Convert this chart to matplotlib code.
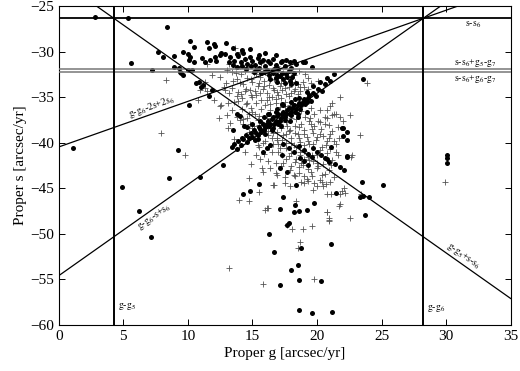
import matplotlib
matplotlib.use("Agg")
import matplotlib.pyplot as plt

plt.rcParams['font.family'] = ['Liberation Serif', 'DejaVu Serif']
plt.rcParams['mathtext.fontset'] = 'stix'

# secular frequencies [arcsec/yr]
g5 = 4.26
g6 = 28.24
s6 = -26.35
s_res_a = -31.95
s_res_b = -32.2

# filled circles (proper g, proper s)
circ = [
    (2.84, -26.24), (5.37, -26.35), (1.13, -40.6), (5.58, -31.3), (7.2, -32.0), (8.37, -27.35),
    (7.7, -30.1), (8.1, -30.6), (8.9, -30.5), (9.6, -30.0), (10.2, -28.8), (10.5, -29.5),
    (10.0, -30.3), (10.2, -30.6), (10.1, -30.9), (10.5, -31.1), (8.9, -31.7), (9.3, -31.8),
    (9.4, -32.2), (9.6, -32.6), (9.5, -32.4), (10.0, -32.0), (10.3, -32.0), (10.6, -33.4),
    (11.2, -33.7), (10.9, -33.3), (11.0, -33.9), (11.85, -34.2), (11.6, -34.9), (10.1, -35.9),
    (11.5, -29.0), (11.6, -29.65), (12.0, -29.2), (12.1, -29.4), (12.95, -29.1), (13.5, -29.6),
    (14.2, -29.8), (14.8, -29.7), (16.0, -30.2), (12.6, -30.2), (11.1, -30.7), (11.3, -31.1),
    (11.7, -30.9), (12.1, -30.6), (12.5, -30.4), (12.9, -30.3), (12.2, -31.0),
    (13.3, -30.6), (13.6, -31.0), (13.9, -30.5), (14.1, -31.2), (14.4, -30.8), (14.6, -31.4),
    (14.8, -30.6), (15.0, -31.0), (15.2, -31.5), (15.4, -30.7), (15.6, -31.2), (15.8, -30.9),
    (16.0, -31.6), (16.2, -31.0), (16.4, -31.3), (16.6, -30.8), (16.8, -31.5), (17.0, -31.9),
    (17.2, -31.2), (17.5, -31.6), (17.8, -32.1), (16.5, -32.1), (16.9, -32.6), (17.3, -32.4),
    (15.9, -32.2), (15.3, -32.0), (18.4, -31.4), (18.95, -31.2), (19.6, -31.7), (19.1, -31.1),
    (18.0, -31.8), (17.7, -32.8), (18.2, -32.4), (23.6, -33.0),
    (13.2, -31.2), (13.5, -31.5), (13.8, -31.7), (14.2, -31.6), (14.5, -31.9), (14.9, -31.6),
    (15.1, -32.2), (15.5, -31.8), (15.7, -32.4), (16.1, -32.0), (16.3, -32.6), (16.6, -32.4),
    (16.8, -32.9), (17.1, -32.7), (17.4, -33.0), (17.6, -32.5), (17.9, -33.2), (18.1, -32.8),
    (18.4, -33.4), (18.0, -33.6), (17.5, -33.5), (16.9, -33.3), (16.4, -33.0), (17.6, -30.9),
    (17.9, -31.2), (18.2, -31.0), (16.7, -31.9), (17.3, -31.0), (15.5, -30.4), (14.3, -30.2),
    (13.8, -30.3), (16.8, -30.4),
    (9.2, -40.8), (8.5, -43.9), (10.95, -43.8), (6.25, -47.5),
    (12.7, -42.45), (13.4, -40.5), (13.8, -40.7), (13.5, -38.6), (14.2, -39.45), (14.55, -39.9),
    (15.0, -39.35), (15.2, -39.7), (15.45, -39.15), (15.85, -41.0), (16.1, -40.6), (16.4, -40.3),
    (14.05, -37.1), (14.35, -38.2), (13.8, -36.9),
    (15.6, -38.5), (15.8, -38.0), (16.0, -38.3), (16.2, -37.6), (16.4, -37.9), (16.6, -37.2),
    (16.8, -37.6), (17.0, -36.9), (17.2, -37.3), (17.4, -36.6), (17.6, -36.9), (17.8, -36.2),
    (18.0, -36.6), (18.2, -35.9), (18.4, -36.3), (18.6, -35.6), (18.8, -35.9), (19.0, -35.2),
    (19.2, -35.5), (19.4, -34.8), (19.7, -33.8), (20.2, -33.3), (20.75, -32.9), (21.3, -32.5),
    (16.5, -38.6), (17.0, -38.0), (17.5, -37.5), (18.0, -37.0), (18.5, -36.8), (17.3, -35.8),
    (16.9, -36.3), (18.3, -35.2), (15.9, -37.2), (16.3, -36.8),
    (13.6, -40.2), (13.9, -39.8), (14.1, -40.3), (14.3, -39.6), (14.5, -39.2), (14.7, -39.5),
    (14.9, -38.9), (15.1, -38.6), (15.3, -38.9), (15.5, -38.3), (15.7, -38.8), (15.9, -38.6),
    (16.1, -37.9), (16.3, -38.2), (16.5, -37.4), (16.7, -37.9), (16.9, -37.1), (17.1, -37.6),
    (17.3, -36.9), (17.5, -37.2), (17.7, -36.4), (17.9, -36.9), (18.1, -36.2), (18.3, -36.6),
    (18.5, -35.9), (18.7, -36.3), (18.9, -35.5), (19.1, -35.8), (19.3, -35.1), (19.5, -35.4),
    (19.7, -34.6), (19.9, -34.9), (20.1, -34.1), (20.4, -34.3), (20.6, -33.6), (21.0, -33.2),
    (15.0, -37.9), (15.6, -37.6), (16.2, -36.9), (16.8, -36.6), (17.4, -35.9), (18.0, -35.5),
    (18.6, -35.1), (19.2, -34.4), (14.6, -38.3), (15.4, -39.6), (16.0, -39.0), (16.6, -38.4),
    (17.2, -38.2), (17.9, -37.6), (18.5, -37.2), (19.2, -36.6),
    (17.4, -40.1), (17.8, -40.6), (18.2, -41.0), (19.7, -40.6), (20.0, -41.0), (20.3, -41.3),
    (20.6, -41.7), (21.1, -40.45), (21.9, -38.4), (17.3, -41.35), (17.1, -42.8), (17.65, -43.2),
    (20.75, -41.8), (22.35, -41.5), (22.05, -38.4), (22.3, -38.8), (22.0, -39.3), (22.3, -39.7),
    (22.3, -41.6), (19.0, -42.0), (19.3, -42.4), (18.7, -41.7),
    (18.6, -40.4), (19.0, -40.8), (19.3, -41.2), (19.6, -41.6), (20.9, -42.1), (21.4, -42.3),
    (21.8, -42.7), (22.1, -43.0),
    (18.4, -44.65), (23.5, -44.3), (25.1, -44.6), (17.35, -46.0), (23.3, -46.0), (23.6, -45.9),
    (24.0, -46.0), (17.1, -47.3), (18.2, -47.6), (18.6, -47.5), (19.25, -47.4), (19.8, -46.6),
    (21.5, -45.5), (23.7, -47.9), (17.7, -49.0), (16.3, -50.0), (21.1, -51.1), (16.7, -52.0),
    (18.8, -51.5), (18.5, -53.4), (18.0, -54.0), (17.1, -55.6), (18.6, -55.1), (20.3, -55.2),
    (18.6, -58.4), (19.6, -58.7), (21.2, -58.6), (4.93, -44.9), (7.15, -50.4), (14.3, -45.6),
    (14.8, -45.3), (15.5, -44.5), (18.3, -46.85), (17.8, -48.8), (30.05, -41.4), (30.05, -41.7),
    (30.05, -42.2),
]

# plus markers (proper g, proper s)
plus = [
    (8.3, -33.1), (7.9, -38.9), (9.8, -41.35), (10.8, -35.3), (11.3, -34.0), (11.5, -34.3),
    (12.0, -35.3), (12.5, -36.0), (13.0, -37.0), (13.65, -29.6), (14.0, -30.1), (11.5, -31.4),
    (11.85, -32.6), (11.3, -33.3), (12.95, -33.4), (12.6, -35.9), (10.95, -34.2), (13.3, -37.8),
    (14.0, -37.5), (15.3, -41.4), (15.6, -41.8), (15.75, -42.8), (15.8, -43.2), (14.7, -43.85),
    (15.5, -45.4), (14.7, -46.4), (16.0, -47.4), (16.2, -47.2), (16.7, -44.6), (13.97, -46.3),
    (13.2, -53.7), (16.1, -47.2), (18.4, -46.4), (19.0, -44.4), (19.3, -44.2),
    (19.8, -44.4), (20.4, -44.3), (20.7, -44.5), (20.0, -44.8), (20.75, -45.6), (21.1, -45.6),
    (21.9, -45.3), (22.2, -45.5), (21.7, -47.0), (20.75, -47.6), (20.9, -48.3), (20.9, -48.6),
    (17.65, -49.0), (18.1, -49.5), (18.9, -49.5), (19.6, -49.15), (18.7, -50.9), (18.5, -51.6),
    (19.8, -55.0), (15.8, -55.5), (29.9, -44.3), (23.4, -45.6), (23.85, -33.4), (21.8, -35.0),
    (21.0, -36.0), (20.8, -36.4), (21.2, -35.7), (22.55, -37.0), (21.5, -36.8), (23.3, -39.2),
    (22.7, -41.4), (22.6, -41.6), (21.1, -42.45), (22.1, -45.0), (22.55, -48.3),
    (13.4, -32.3), (13.8, -33.0), (14.1, -32.5), (14.3, -33.6), (14.6, -32.9), (14.8, -34.2),
    (15.0, -33.3), (15.1, -32.4), (15.3, -34.8), (15.4, -33.8), (15.6, -32.8), (15.7, -35.3),
    (15.8, -34.1), (15.9, -33.2), (16.0, -35.9), (16.1, -34.6), (16.2, -32.6), (16.3, -33.7),
    (16.4, -36.4), (16.5, -35.0), (16.6, -34.0), (16.7, -33.0), (16.8, -35.6), (16.9, -34.4),
    (17.0, -32.9), (17.1, -33.8), (17.2, -35.1), (17.3, -34.2), (17.5, -33.4), (17.6, -34.7),
    (17.8, -33.9), (18.0, -34.5), (18.1, -33.3), (18.3, -34.1), (18.5, -33.6), (18.7, -34.3),
    (19.0, -33.9), (13.9, -34.4), (14.2, -35.1), (14.5, -35.8), (14.9, -36.2), (15.2, -36.8),
    (15.5, -37.1), (15.0, -35.0), (14.4, -34.3), (13.6, -35.5), (13.2, -34.6), (12.8, -33.9),
    (12.5, -32.8), (13.0, -32.0), (14.0, -31.6), (16.8, -32.2), (18.2, -32.6), (19.3, -32.9),
    (18.3, -33.3), (18.7, -33.85), (19.5, -33.4),
    (16.6, -38.9), (16.9, -39.7), (17.2, -38.4), (17.4, -39.2), (17.6, -40.0), (17.8, -38.7),
    (18.0, -39.5), (18.2, -40.3), (18.3, -38.2), (18.5, -39.1), (18.7, -39.9), (18.8, -37.9),
    (19.0, -38.6), (19.2, -39.4), (19.4, -40.2), (19.5, -38.0), (19.7, -38.9), (19.9, -39.7),
    (20.1, -37.6), (20.3, -38.5), (20.5, -39.3), (20.7, -40.3), (20.2, -40.8), (19.6, -41.3),
    (19.0, -40.9), (18.4, -41.8), (17.8, -41.5), (17.0, -41.0), (16.6, -40.1), (16.2, -39.2),
    (15.8, -40.0), (15.5, -40.5), (17.4, -42.2), (18.0, -42.6), (18.8, -42.2), (19.4, -41.9),
    (20.0, -42.2), (16.8, -43.3), (17.5, -43.8), (18.6, -43.3), (21.0, -39.0), (21.3, -39.8),
    (21.6, -38.3), (20.8, -37.3), (21.2, -37.0), (22.0, -37.6), (21.5, -41.0), (20.4, -43.6),
    (19.2, -44.0), (18.0, -37.3), (19.1, -37.2), (19.8, -36.9), (17.5, -36.0), (20.25, -36.4),
    (20.6, -37.15), (21.8, -37.15), (21.3, -36.8), (19.47, -37.3), (20.25, -37.7), (20.9, -38.1),
    (20.9, -39.5), (21.5, -40.1), (17.9, -38.6), (16.9, -39.5), (17.15, -40.6), (18.7, -41.4),
    (18.95, -42.5), (19.5, -43.2), (20.0, -42.8), (19.0, -43.7), (18.3, -43.7), (21.0, -44.3),
    (20.5, -44.8), (21.8, -45.6), (19.7, -45.2), (17.9, -44.8), (16.6, -44.6), (21.8, -46.7),
    (20.8, -47.6), (20.9, -48.5), (12.4, -37.3), (13.1, -38.4), (13.6, -39.6), (14.4, -41.0),
    (14.9, -42.3), (14.3, -37.4), (14.6, -37.3), (14.8, -38.0), (15.1, -38.2),
    (13.2, -31.4), (14.5, -31.7), (15.7, -31.3), (16.9, -31.6), (18.6, -32.1),
    (13.7, -32.4), (14.4, -32.1), (15.3, -32.5), (16.0, -32.2), (17.4, -32.4), (18.0, -32.1),
    (19.1, -32.5), (13.5, -33.2), (14.0, -33.4), (14.9, -33.0), (15.5, -33.5), (16.4, -33.1),
    (17.2, -33.4), (17.9, -33.0), (18.9, -33.3), (20.1, -33.2), (12.9, -34.2), (13.4, -34.0),
    (14.5, -34.1), (15.2, -34.3), (15.9, -33.8), (16.7, -34.2), (17.5, -34.0), (18.2, -34.3),
    (19.3, -34.1), (13.8, -34.9), (14.1, -34.7), (14.9, -34.8), (15.6, -34.6), (16.3, -35.0),
    (17.0, -34.8), (17.8, -34.9), (18.5, -34.7), (13.1, -35.7), (13.9, -35.4), (14.6, -35.6),
    (15.3, -35.7), (16.1, -35.3), (16.8, -35.2), (17.5, -35.5), (18.1, -35.6), (13.4, -36.4),
    (14.2, -36.3), (15.0, -36.6), (15.7, -36.3), (16.4, -35.8), (17.1, -36.1), (17.9, -35.9),
    (18.8, -36.5), (19.5, -36.2), (13.8, -37.2), (14.7, -36.9), (15.4, -37.5), (16.1, -37.3),
    (16.8, -37.0), (17.6, -37.7), (18.4, -37.4), (19.4, -37.6), (14.3, -38.0), (15.0, -38.4),
    (15.8, -37.9), (16.3, -38.0), (17.1, -37.9), (17.7, -38.2), (18.6, -38.3), (19.8, -38.2),
    (20.6, -38.0), (14.7, -38.8), (15.5, -38.1), (16.2, -38.7), (16.9, -38.8), (17.6, -39.0),
    (18.3, -38.9), (19.0, -39.1), (19.6, -38.5), (20.2, -39.0), (21.2, -38.7), (15.2, -39.6),
    (16.0, -39.8), (16.5, -39.5), (17.3, -39.7), (18.0, -40.0), (18.6, -39.5), (19.3, -39.8),
    (20.0, -39.4), (20.8, -39.8), (21.7, -39.5), (15.4, -40.3), (16.3, -40.5), (17.0, -40.2),
    (17.6, -40.6), (18.4, -40.5), (19.0, -40.3), (19.7, -40.1), (20.4, -40.5), (21.0, -40.7),
    (15.9, -41.2), (16.5, -41.0), (17.3, -41.3), (18.0, -41.1), (18.7, -41.0), (19.3, -41.6),
    (20.0, -41.4), (20.8, -41.1), (21.6, -41.4), (16.2, -42.0), (16.8, -42.2), (17.6, -41.8),
    (18.3, -42.1), (19.0, -41.8), (19.7, -42.0), (20.5, -42.3), (21.2, -41.9), (16.4, -42.8),
    (17.2, -42.6), (17.9, -43.0), (18.6, -42.7), (19.3, -42.9), (20.1, -42.6), (20.9, -43.0),
    (16.9, -43.6), (18.2, -43.5), (19.6, -43.7), (20.6, -43.4), (21.3, -43.8), (17.5, -44.4),
    (18.8, -44.3), (20.2, -44.1),
]

circ_g = [p[0] for p in circ]
circ_s = [p[1] for p in circ]
plus_g = [p[0] for p in plus]
plus_s = [p[1] for p in plus]

fig = plt.figure(figsize=(5.2, 3.71), dpi=100)
ax = fig.add_axes([0.113, 0.124, 0.869, 0.860])

ax.plot(plus_g, plus_s, '+', color='#555555', markersize=4.5, markeredgewidth=0.6, zorder=2)
ax.plot(circ_g, circ_s, 'o', color='k', markersize=3.6, markeredgewidth=0, zorder=3)

# resonance lines
ax.axhline(s6, color='k', lw=1.3, zorder=4)
ax.axhline(s_res_a, color='#777777', lw=1.1, zorder=4)
ax.axhline(s_res_b, color='#777777', lw=1.1, zorder=4)
ax.axvline(g5, color='k', lw=1.4, zorder=4)
ax.axvline(g6, color='k', lw=1.4, zorder=4)
ax.axline((g5, s6), slope=-1, color='k', lw=0.9, zorder=4)
ax.axline((g6, s6), slope=1, color='k', lw=0.9, zorder=4)
ax.axline((g6, s6), slope=0.5, color='k', lw=0.9, zorder=4)

fs = 7
ax.text(31.5, -27.1, r'$\mathrm{s}$-$\mathrm{s}_6$', fontsize=fs, ha='left', va='center')
ax.text(30.6, -31.3, r'$\mathrm{s}$-$\mathrm{s}_6$+$\mathrm{g}_5$-$\mathrm{g}_7$', fontsize=fs, ha='left', va='center')
ax.text(30.6, -33.0, r'$\mathrm{s}$-$\mathrm{s}_6$+$\mathrm{g}_6$-$\mathrm{g}_7$', fontsize=fs, ha='left', va='center')
ax.text(4.6, -58.0, r'$\mathrm{g}$-$\mathrm{g}_5$', fontsize=fs, ha='left', va='center')
ax.text(28.55, -58.2, r'$\mathrm{g}$-$\mathrm{g}_6$', fontsize=fs, ha='left', va='center')
ax.text(7.2, -36.1, r'$\mathrm{g}$-$\mathrm{g}_6$-2$\mathrm{s}$+2$\mathrm{s}_6$', fontsize=fs,
        ha='center', va='center', rotation=19.5)
ax.text(7.4, -48.2, r'$\mathrm{g}$-$\mathrm{g}_6$-$\mathrm{s}$+$\mathrm{s}_6$', fontsize=fs,
        ha='center', va='center', rotation=35)
ax.text(31.3, -52.4, r'$\mathrm{g}$-$\mathrm{g}_5$+$\mathrm{s}$-$\mathrm{s}_6$', fontsize=fs,
        ha='center', va='center', rotation=-35)

ax.set_xlim(0, 35)
ax.set_ylim(-60, -25)
ax.set_xticks(range(0, 36, 5))
ax.set_yticks(range(-60, -24, 5))
ax.tick_params(direction='in', top=True, right=True, labelsize=11, length=4, width=0.7)
for sp in ax.spines.values():
    sp.set_linewidth(0.8)
ax.set_xlabel('Proper g [arcsec/yr]', fontsize=11, labelpad=3)
ax.set_ylabel('Proper s [arcsec/yr]', fontsize=11, labelpad=2)

fig.savefig('out.png', dpi=100)
